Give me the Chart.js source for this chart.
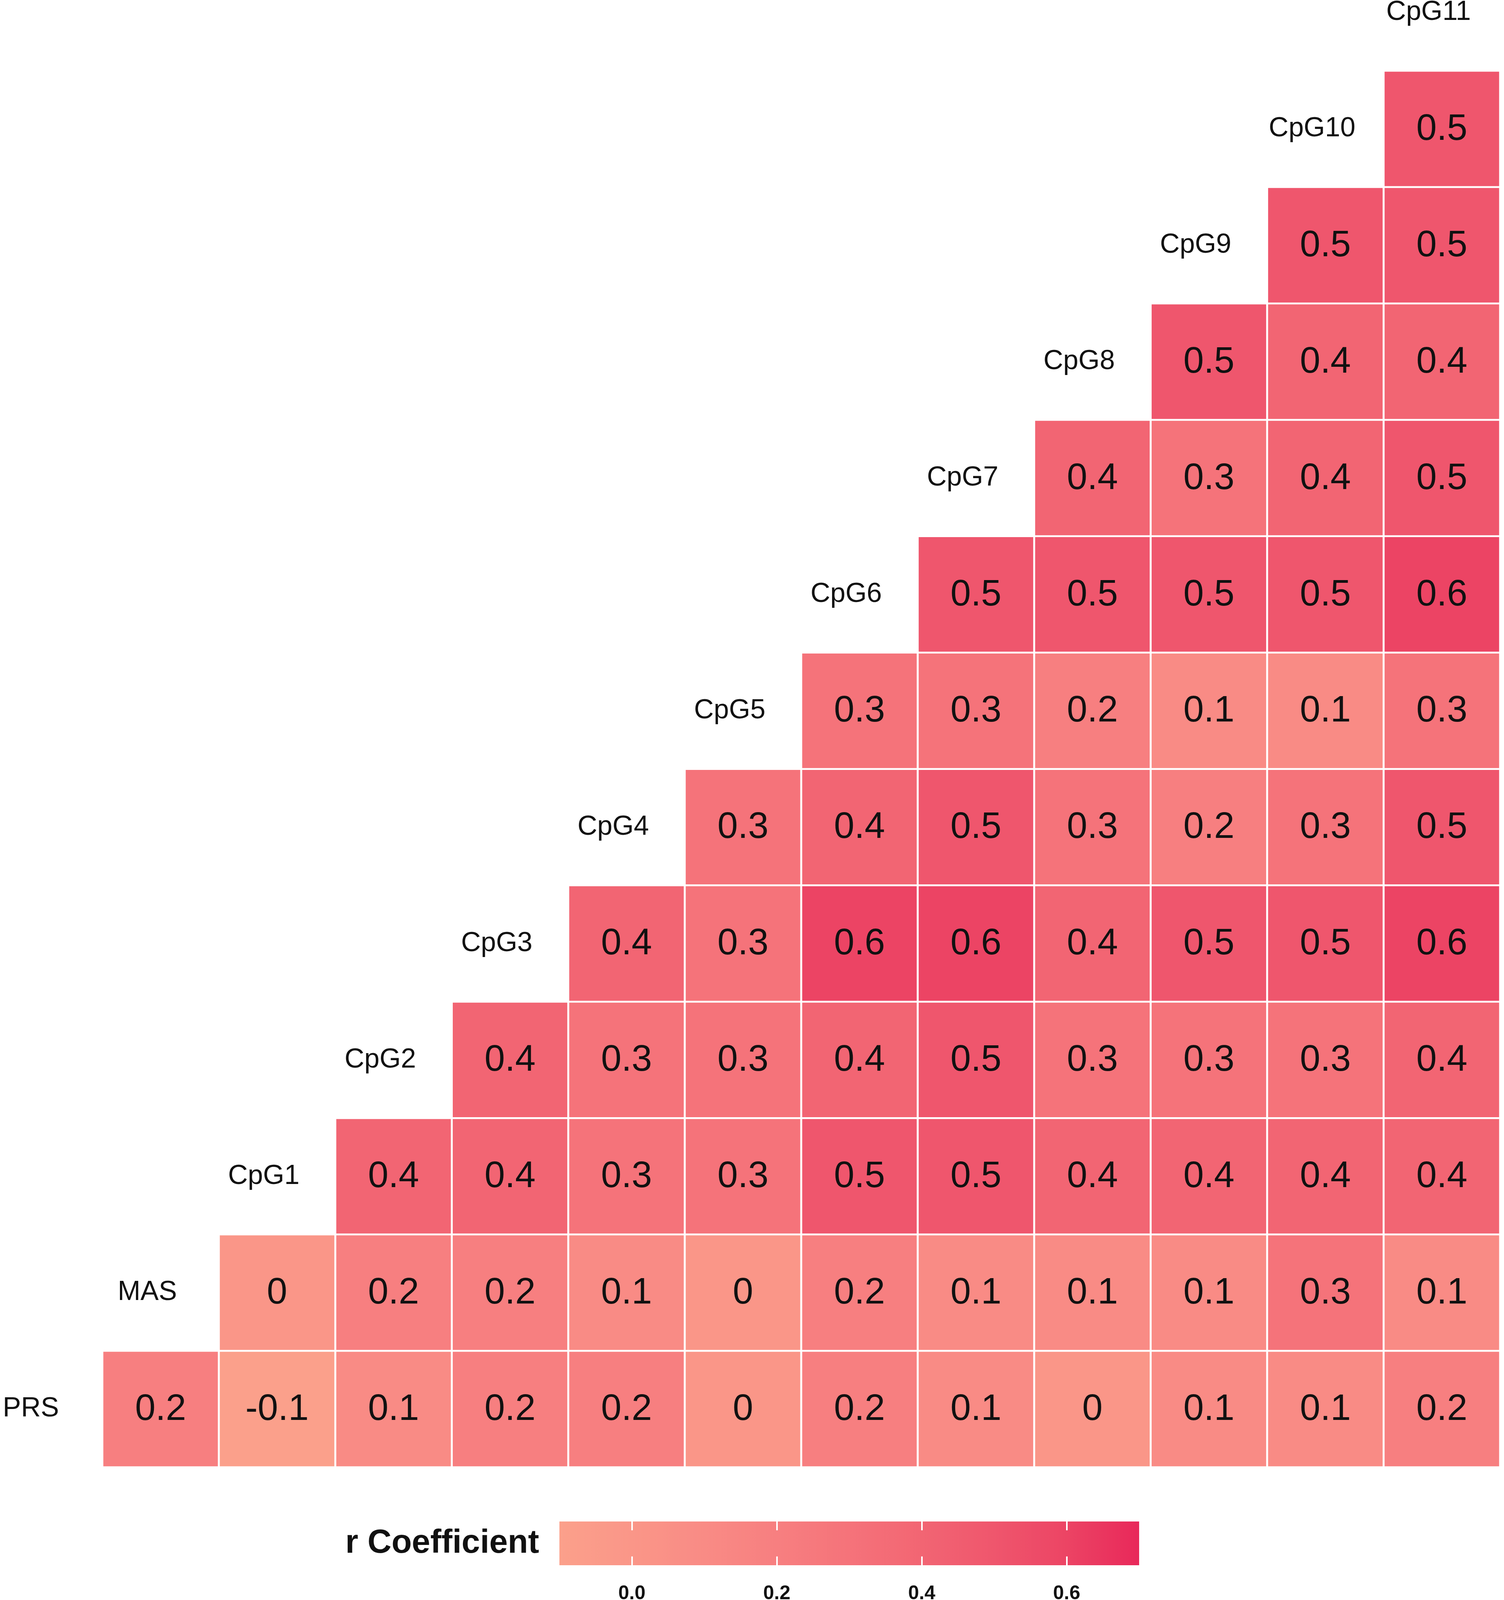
<!DOCTYPE html>
<html lang="en">
<head>
  <meta charset="UTF-8">
  <title>Correlation heatmap - PRS, MAS and CpG sites</title>
  <script src="https://cdn.jsdelivr.net/npm/chart.js"></script>
  <style>
    body {
      margin: 0;
      background: #ffffff;
    }
    #wrap {
      width: 3850px;
      height: 4109px;
    }
  </style>
</head>
<body>
  <div id="wrap"><canvas id="heat" width="3850" height="4109"></canvas></div>

  <script>
    // variables, bottom row first; row i holds r with every variable after it
    const variables = ['PRS', 'MAS', 'CpG1', 'CpG2', 'CpG3', 'CpG4', 'CpG5',
                       'CpG6', 'CpG7', 'CpG8', 'CpG9', 'CpG10', 'CpG11'];

    const rPRS   = [0.2, -0.1, 0.1, 0.2, 0.2, 0, 0.2, 0.1, 0, 0.1, 0.1, 0.2];
    const rMAS   = [0, 0.2, 0.2, 0.1, 0, 0.2, 0.1, 0.1, 0.1, 0.3, 0.1];
    const rCpG1  = [0.4, 0.4, 0.3, 0.3, 0.5, 0.5, 0.4, 0.4, 0.4, 0.4];
    const rCpG2  = [0.4, 0.3, 0.3, 0.4, 0.5, 0.3, 0.3, 0.3, 0.4];
    const rCpG3  = [0.4, 0.3, 0.6, 0.6, 0.4, 0.5, 0.5, 0.6];
    const rCpG4  = [0.3, 0.4, 0.5, 0.3, 0.2, 0.3, 0.5];
    const rCpG5  = [0.3, 0.3, 0.2, 0.1, 0.1, 0.3];
    const rCpG6  = [0.5, 0.5, 0.5, 0.5, 0.6];
    const rCpG7  = [0.4, 0.3, 0.4, 0.5];
    const rCpG8  = [0.5, 0.4, 0.4];
    const rCpG9  = [0.5, 0.5];
    const rCpG10 = [0.5];

    const rows = [rPRS, rMAS, rCpG1, rCpG2, rCpG3, rCpG4, rCpG5,
                  rCpG6, rCpG7, rCpG8, rCpG9, rCpG10];

    const legendTicks = [0.0, 0.2, 0.4, 0.6];
    const legendMin = -0.1;
    const legendMax = 0.7;

    // fill colour ramp (value -> colour)
    const rampAt = [-0.1, 0.0, 0.1, 0.2, 0.3, 0.4, 0.5, 0.6, 0.7];
    const rampCol = ['#fba08b', '#fa9688', '#f98b85', '#f77f80', '#f5737a',
                     '#f26573', '#ef566d', '#ec4464', '#e8285a'];

    function hexRgb(h) {
      return [parseInt(h.slice(1, 3), 16), parseInt(h.slice(3, 5), 16), parseInt(h.slice(5, 7), 16)];
    }

    function fillFor(v) {
      if (v <= rampAt[0]) return rampCol[0];
      for (let i = 1; i < rampAt.length; i++) {
        if (v <= rampAt[i]) {
          const t = (v - rampAt[i - 1]) / (rampAt[i] - rampAt[i - 1]);
          const a = hexRgb(rampCol[i - 1]);
          const b = hexRgb(rampCol[i]);
          const c = a.map((x, k) => Math.round(x + (b[k] - x) * t));
          return 'rgb(' + c.join(',') + ')';
        }
      }
      return rampCol[rampCol.length - 1];
    }

    const cells = [];
    rows.forEach((vals, i) => {
      vals.forEach((v, k) => cells.push({ x: i + 1 + k, y: i, v: v }));
    });

    const GAP = 5;
    const FONT = '"Liberation Sans", Arial, sans-serif';

    const labelPlugin = {
      id: 'labels',
      afterDatasetsDraw(chart) {
        const ctx = chart.ctx;
        const xs = chart.scales.x;
        const ys = chart.scales.y;
        ctx.save();
        ctx.fillStyle = '#111111';
        ctx.textAlign = 'center';
        ctx.textBaseline = 'middle';

        // r values inside the cells
        ctx.font = '94px ' + FONT;
        cells.forEach(c => {
          ctx.fillText(String(c.v), xs.getPixelForValue(c.x), ys.getPixelForValue(c.y) + 2);
        });

        // variable names on the diagonal
        ctx.font = '70px ' + FONT;
        variables.forEach((name, i) => {
          ctx.fillText(name, xs.getPixelForValue(i) - 34, ys.getPixelForValue(i));
        });

        // colour bar legend
        const barL = 1432, barR = 2916, barT = 3895, barB = 4007;
        const toX = v => barL + (v - legendMin) / (legendMax - legendMin) * (barR - barL);
        const grad = ctx.createLinearGradient(barL, 0, barR, 0);
        for (let s = 0; s <= 40; s++) {
          const v = legendMin + (legendMax - legendMin) * s / 40;
          grad.addColorStop(s / 40, fillFor(v));
        }
        ctx.fillStyle = grad;
        ctx.fillRect(barL, barT, barR - barL, barB - barT);

        ctx.strokeStyle = '#ffffff';
        ctx.lineWidth = 4;
        const tickLen = (barB - barT) * 0.2;
        legendTicks.forEach(t => {
          const x = Math.round(toX(t));
          ctx.beginPath();
          ctx.moveTo(x, barT);
          ctx.lineTo(x, barT + tickLen);
          ctx.moveTo(x, barB - tickLen);
          ctx.lineTo(x, barB);
          ctx.stroke();
        });

        ctx.fillStyle = '#111111';
        ctx.font = 'bold 50px ' + FONT;
        legendTicks.forEach(t => {
          ctx.fillText(t.toFixed(1), toX(t), 4080);
        });

        ctx.font = 'bold 85px ' + FONT;
        ctx.textAlign = 'right';
        ctx.fillText('r Coefficient', 1380, 3952);
        ctx.restore();
      }
    };

    new Chart(document.getElementById('heat').getContext('2d'), {
      type: 'scatter',
      data: {
        datasets: [{
          data: cells,
          pointStyle: 'rect',
          pointRadius: (c) => {
            const xs = c.chart.scales.x;
            const w = Math.abs(xs.getPixelForValue(1) - xs.getPixelForValue(0)) - GAP;
            return w / Math.SQRT2;
          },
          pointHoverRadius: (c) => {
            const xs = c.chart.scales.x;
            const w = Math.abs(xs.getPixelForValue(1) - xs.getPixelForValue(0)) - GAP;
            return w / Math.SQRT2;
          },
          pointBorderWidth: 0,
          pointBackgroundColor: (c) => c.raw ? fillFor(c.raw.v) : '#ffffff',
          pointBorderColor: 'rgba(0,0,0,0)'
        }]
      },
      options: {
        responsive: false,
        animation: false,
        events: [],
        layout: {
          padding: { left: 262, right: 10, top: 181, bottom: 353 }
        },
        scales: {
          x: { type: 'linear', min: 0.5, max: 12.5, display: false },
          y: { type: 'linear', min: -0.5, max: 11.5, display: false }
        },
        plugins: {
          legend: { display: false },
          tooltip: { enabled: false }
        }
      },
      plugins: [labelPlugin]
    });
  </script>
</body>
</html>
